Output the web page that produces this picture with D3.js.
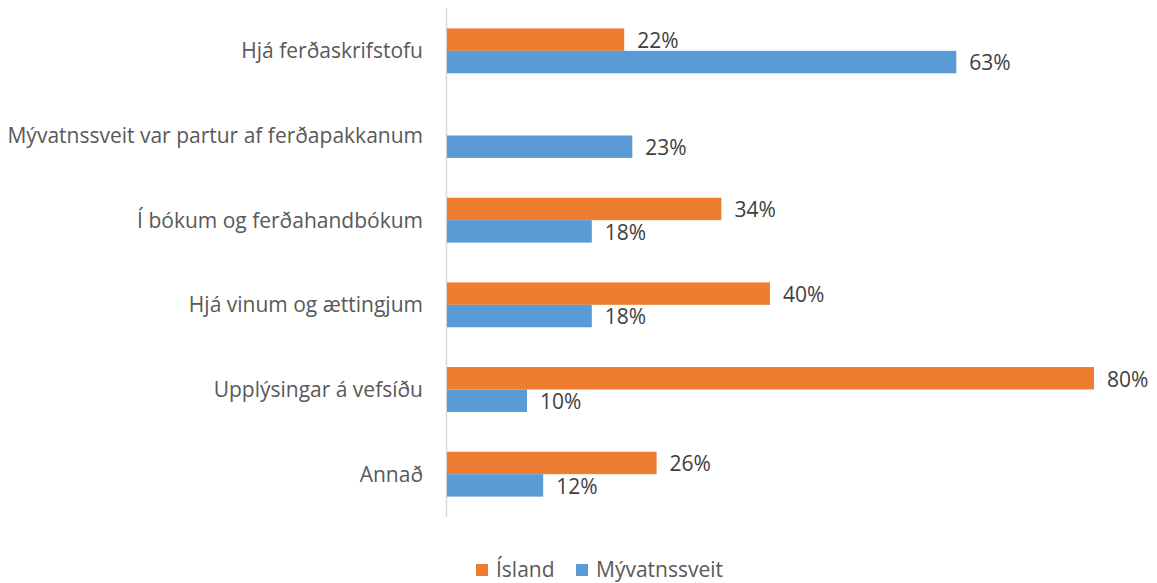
<!DOCTYPE html>
<html><head><meta charset="utf-8">
<script src="https://cdn.jsdelivr.net/npm/d3@7"></script>
<style>body{margin:0;background:#fff;} text{font-family:"Open Sans",sans-serif;fill:#595959;}</style>
</head><body>
<svg id="c" width="1157" height="583"></svg>
<script>
const categories = ["Hjá ferðaskrifstofu","Mývatnssveit var partur af ferðapakkanum","Í bókum og ferðahandbókum","Hjá vinum og ættingjum","Upplýsingar á vefsíðu","Annað"];
const seriesNames = ["Ísland","Mývatnssveit"];
const island = [22, null, 34, 40, 80, 26];
const myvatn = [63, 23, 18, 18, 10, 12];
const colors = ["#ED7D31","#5B9BD5"];
const FS = 21;

const svg = d3.select("#c");
const x = d3.scaleLinear().domain([0,80]).range([446,1094]);
const y = d3.scaleBand().domain(categories).range([8.5,516.5]).paddingInner(0.47).paddingOuter(0.235);
const sub = d3.scaleBand().domain(seriesNames).range([0,y.bandwidth()]);

svg.append("line").attr("x1",446.5).attr("x2",446.5).attr("y1",8).attr("y2",517).attr("stroke","#D9D9D9").attr("stroke-width",1.5);

const data = [island, myvatn];
data.forEach((vals,si)=>{
  const g = svg.append("g");
  categories.forEach((c,i)=>{
    const v = vals[i];
    if(v==null) return;
    const y0 = y(c)+sub(seriesNames[si]);
    g.append("rect").attr("x",x(0)+1).attr("y",y0).attr("width",x(v)-x(0)-1).attr("height",sub.bandwidth()).attr("fill",colors[si]);
    g.append("text").attr("x",x(v)+13).attr("y",y0+sub.bandwidth()/2+1).attr("dy","0.35em").attr("font-size",FS).style("fill","#404040").text(v+"%");
  });
});

categories.forEach(c=>{
  svg.append("text").attr("x",423).attr("y",y(c)+y.bandwidth()/2).attr("dy","0.35em").attr("text-anchor","end").attr("font-size",FS).text(c);
});

const legX = [476, 576];
seriesNames.forEach((s,i)=>{
  svg.append("rect").attr("x",legX[i]).attr("y",564).attr("width",12).attr("height",12).attr("fill",colors[i]);
  svg.append("text").attr("x",legX[i]+20).attr("y",570).attr("dy","0.35em").attr("font-size",FS).text(s);
});
</script>
</body></html>
